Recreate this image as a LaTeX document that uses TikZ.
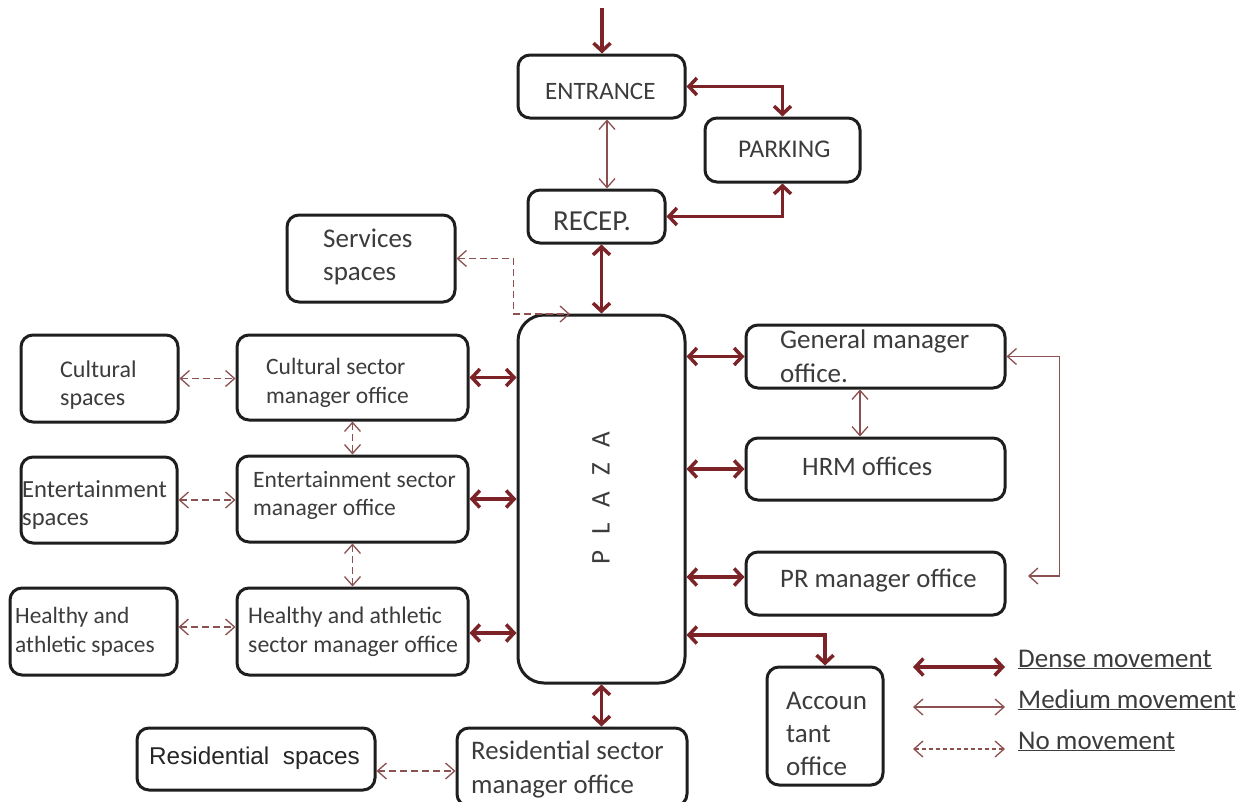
\documentclass[tikz,border=0pt]{standalone}
\usepackage{fontspec}
\setmainfont{Carlito}
\newfontfamily\arialf{Liberation Sans}
\usetikzlibrary{arrows.meta,fit}
\definecolor{dred}{HTML}{7B2326}
\definecolor{lred}{HTML}{8C5050}
\definecolor{txt}{HTML}{3C3C3C}
\definecolor{bord}{HTML}{1E1E1E}
\tikzset{
  DT/.tip={Straight Barb[length=8pt,width=17pt]},
  MT/.tip={Straight Barb[length=9pt,width=16pt]},
  box/.style={draw=bord, line width=3pt, rounded corners=12pt, inner sep=0pt, fit={#1}},
  bigbox/.style={draw=bord, line width=3pt, rounded corners=26pt, inner sep=0pt, fit={#1}},
  tx/.style={anchor=base west, inner sep=0pt, text=txt, align=left},
  dense/.style={draw=dred, line width=3.5pt},
  medium/.style={draw=lred, line width=1.3pt},
  nomove/.style={draw=lred, line width=1.3pt, dash pattern=on 7pt off 4pt},
}
\begin{document}
\begin{tikzpicture}[x=1pt,y=-1pt]
\fill[white] (0,0) rectangle (1256,801);
\useasboundingbox (0,0) rectangle (1256,801);

% boxes
\node[box={(518,55) (685,118)}] (ent) {};
\node[box={(705,118) (860,182)}] (park) {};
\node[box={(528,190) (665,243)}] (rec) {};
\node[box={(287,215) (455,302)}] (serv) {};
\node[bigbox={(518,315) (685,683)}] (plaza) {};
\node[box={(21,335) (178,422)}] (cul) {};
\node[box={(237,335) (468,420)}] (culm) {};
\node[box={(21,457) (177,543)}] (ents) {};
\node[box={(237,456) (468,542)}] (entm) {};
\node[box={(10,588) (177,675)}] (hea) {};
\node[box={(237,588) (468,675)}] (heam) {};
\node[box={(746,325) (1005,388)}] (gm) {};
\node[box={(746,438) (1005,500)}] (hrm) {};
\node[box={(746,552) (1005,615)}] (pr) {};
\node[box={(767,667) (883,785)}] (acc) {};
\node[box={(137,728) (375,790)}] (ress) {};
\node[box={(457,728) (687,806)}] (resm) {};

% texts (base = baseline of last line)
\node[tx, font={\fontsize{25}{30}\selectfont}] (tent) at (545,99) {ENTRANCE};
\node[tx, font={\fontsize{25.5}{30}\selectfont}] (tpark) at (738,157) {PARKING};
\node[tx, font={\fontsize{29}{30}\selectfont}] (trec) at (553,230) {RECEP.};
\node[tx, font={\fontsize{27}{33}\selectfont}] (tserv) at (323,280) {Services\\spaces};
\node[tx, font={\fontsize{24}{28}\selectfont}] (tcul) at (60,405) {Cultural\\spaces};
\node[tx, font={\fontsize{23.5}{29}\selectfont}] (tculm) at (266,403) {Cultural sector\\manager office};
\node[tx, font={\fontsize{24.6}{28}\selectfont}] (tents) at (22,525) {Entertainment\\spaces};
\node[tx, font={\fontsize{23.5}{28}\selectfont}] (tentm) at (253,515) {Entertainment sector\\manager office};
\node[tx, font={\fontsize{23.4}{29}\selectfont}] (thea) at (15,652) {Healthy and\\athletic spaces};
\node[tx, font={\fontsize{23.8}{29}\selectfont}] (theam) at (248,652) {Healthy and athletic\\sector manager office};
\node[tx, font={\fontsize{27}{34}\selectfont}] (tgm) at (780,382) {General manager\\office.};
\node[tx, font={\fontsize{26.6}{30}\selectfont}] (thrm) at (802,475) {HRM offices};
\node[tx, font={\fontsize{26.7}{30}\selectfont}] (tpr) at (780,587) {PR manager office};
\node[tx, font={\fontsize{27}{33}\selectfont}] (tacc) at (786,775) {Accoun\\tant\\office};
\node[tx, font={\arialf\fontsize{24.3}{28}\selectfont}, text=black!85] (tress) at (149,764) {Residential\ \ spaces};
\node[tx, font={\fontsize{26.8}{34}\selectfont}] (tresm) at (471,793) {Residential sector\\manager office};
\node[rotate=90, inner sep=0pt, text=txt, font={\fontsize{27}{30}\selectfont}] (tplaza) at (601,498)
  {P\hspace{16pt}L\hspace{16pt}A\hspace{16pt}Z\hspace{16pt}A};

% legend
\node[tx, font={\fontsize{27}{30}\selectfont}] (ld) at (1018,667) {\underline{Dense movement}};
\node[tx, font={\fontsize{27}{30}\selectfont}] (lm) at (1018,708) {\underline{Medium movement}};
\node[tx, font={\fontsize{27}{30}\selectfont}] (ln) at (1018,749) {\underline{No movement}};
\coordinate (lda) at (913,667); \coordinate (ldb) at (1005,667);
\coordinate (lma) at (913,707); \coordinate (lmb) at (1005,707);
\coordinate (lna) at (913,749); \coordinate (lnb) at (1005,749);
\draw[dense,DT-DT] (lda) -- (ldb);
\draw[medium,MT-MT] (lma) -- (lmb);
\draw[lred, line width=1.3pt, dash pattern=on 4pt off 3pt, MT-MT] (lna) -- (lnb);

% connectors
\coordinate (topin) at (602,8);
\draw[dense,-DT] (topin) -- (topin |- ent.north);
\draw[dense,DT-DT] (ent.east) -| (park.north);
\draw[dense,DT-DT] (rec.east) -| (park.south);
\draw[medium,MT-MT] (ent.south -| 607,0) -- (rec.north -| 607,0);
\draw[dense,DT-DT] (plaza.north |- rec.south) -- (plaza.north);
\coordinate (svend) at (570,314);
\draw[nomove,MT-MT] (serv.east) -- ++(57,0) |- (svend);

\draw[nomove,MT-MT] (cul.east) -- (cul.east -| culm.west);
\draw[nomove,MT-MT] (ents.east) -- (ents.east -| entm.west);
\draw[nomove,MT-MT] (hea.east |- 0,627) -- (heam.west |- 0,627);
\draw[nomove,MT-MT] (culm.south) -- (entm.north);
\draw[nomove,MT-MT] (entm.south) -- (heam.north);
\draw[dense,DT-DT] (culm.east) -- (culm.east -| plaza.west);
\draw[dense,DT-DT] (entm.east) -- (entm.east -| plaza.west);
\draw[dense,DT-DT] (heam.east |- 0,633) -- (plaza.west |- 0,633);

\draw[dense,DT-DT] (plaza.east |- gm.west) -- (gm.west);
\draw[dense,DT-DT] (plaza.east |- hrm.west) -- (hrm.west);
\draw[dense,DT-DT] (plaza.east |- 0,577) -- (pr.west |- 0,577);
\draw[medium,MT-MT] (gm.south -| 860,0) -- (hrm.north -| 860,0);
\coordinate (prend) at (1028,576);
\draw[medium,MT-MT] (gm.east) -- ++(53,0) |- (prend);
\draw[dense,DT-DT] (plaza.east |- 0,635) -| (acc.north);

\draw[dense,DT-DT] (plaza.south) -- (plaza.south |- resm.north);
\draw[nomove,MT-MT] (ress.east |- 0,771) -- (resm.west |- 0,771);
\end{tikzpicture}
\end{document}
